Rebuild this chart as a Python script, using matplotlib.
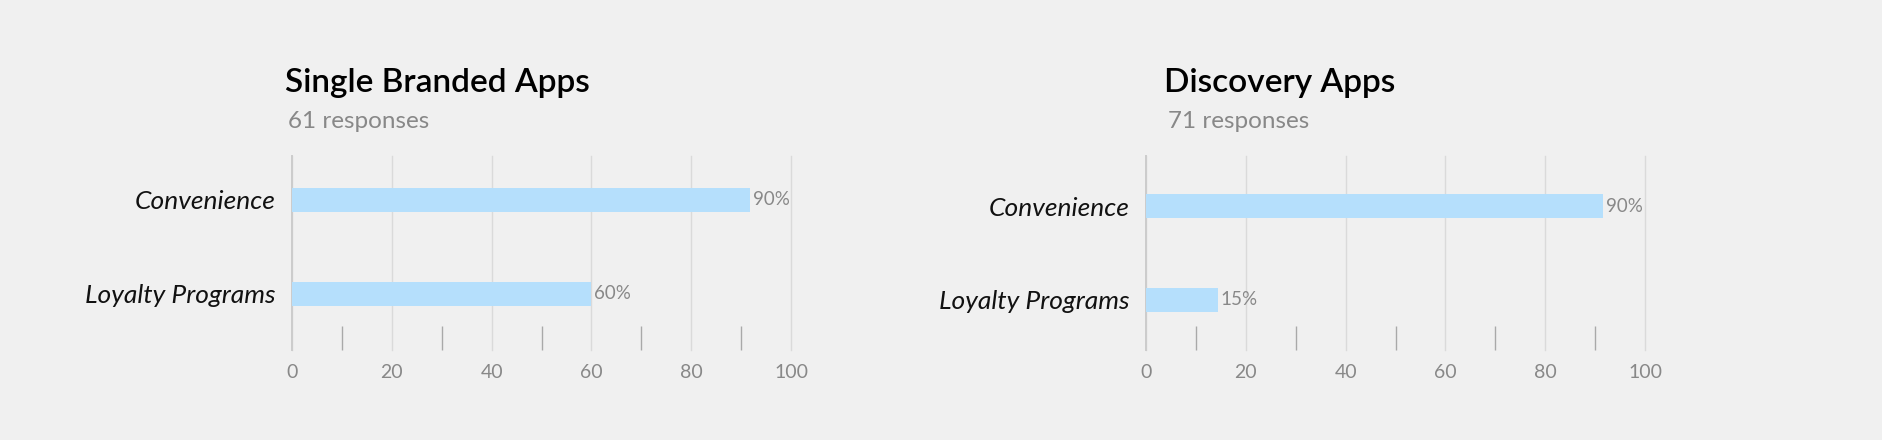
import matplotlib
matplotlib.use("Agg")
import matplotlib.pyplot as plt
from matplotlib.ticker import MultipleLocator

# ---- data ----
categories = ["Convenience", "Loyalty Programs"]
titles = ["Single Branded Apps", "Discovery Apps"]
subtitles = ["61 responses", "71 responses"]
single_values = [91.8, 59.9]
single_labels = ["90%", "60%"]
discovery_values = [91.5, 14.4]
discovery_labels = ["90%", "15%"]
x_ticks = [0, 20, 40, 60, 80, 100]

BG = "#f0f0f0"
BAR = "#b5dffc"
GRID = "#dadada"
GRAY = "#888888"
FONT = ["Lato", "DejaVu Sans"]

plt.rcParams["font.family"] = FONT

W, H = 1882, 440
fig = plt.figure(figsize=(W / 100, H / 100), dpi=100, facecolor=BG)

panels = [
    (titles[0], subtitles[0], single_values, single_labels, 292, (1.596, -0.468), -7, -4),
    (titles[1], subtitles[1], discovery_values, discovery_labels, 1146, (1.532, -0.532), 18, 22),
]

for title, sub, vals, labs, x0, ylim, tdx, sdx in panels:
    ax = fig.add_axes([x0 / W, (H - 350) / H, 499 / W, 194 / H])
    ax.set_facecolor(BG)
    ypos = list(range(len(categories)))
    bars = ax.barh(ypos, vals, height=0.252, color=BAR, zorder=2)
    for b, lab in zip(bars, labs):
        ax.text(b.get_width() + 0.6, b.get_y() + b.get_height() / 2, lab,
                va="center", ha="left", fontsize=13.5, color=GRAY, zorder=3)
    ax.set_xlim(0, 100)
    ax.set_ylim(*ylim)
    ax.set_yticks(ypos)
    ax.set_yticklabels(categories, fontsize=19, style="italic", color="#111111")
    ax.set_xticks(x_ticks)
    ax.set_xticklabels([str(t) for t in x_ticks], fontsize=14, color=GRAY)
    ax.xaxis.set_minor_locator(MultipleLocator(10))
    ax.grid(axis="x", which="major", color=GRID, linewidth=1.0, zorder=0)
    ax.set_axisbelow(True)
    for gl in ax.get_xgridlines():
        gl.set_clip_on(False)
    for s in ["top", "right", "bottom", "left"]:
        ax.spines[s].set_visible(False)
    vl = ax.axvline(0, color="#cccccc", linewidth=1.4, zorder=1)
    vl.set_clip_on(False)
    ax.tick_params(axis="x", which="major", length=0, pad=10)
    ax.tick_params(axis="x", which="minor", direction="in", length=17.5,
                   width=1.0, color="#a9a9a9")
    ax.tick_params(axis="y", length=0, pad=12)
    # titles
    fig.text((x0 + tdx) / W, (H - 83) / H, title, fontsize=24, fontweight="semibold",
             color="#000000", va="center", ha="left")
    fig.text((x0 + sdx) / W, (H - 121) / H, sub, fontsize=17.5, color=GRAY,
             va="center", ha="left")

fig.savefig("out.png", dpi=100, facecolor=BG)
